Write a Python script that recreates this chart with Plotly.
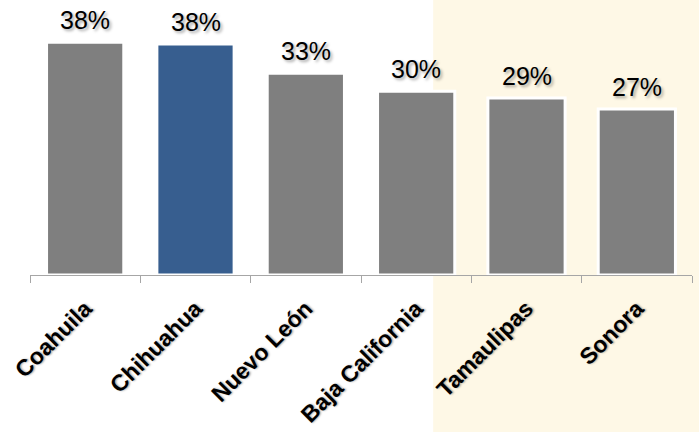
import plotly.graph_objects as go

states = ["Coahuila", "Chihuahua", "Nuevo León", "Baja California", "Tamaulipas", "Sonora"]
values = [38.0, 37.7, 32.95, 30.0, 28.9, 27.1]
labels = ["38%", "38%", "33%", "30%", "29%", "27%"]
highlight = "Chihuahua"

GRAY = "#7F7F7F"
BLUE = "#375E8F"
colors = [BLUE if s == highlight else GRAY for s in states]

fig = go.Figure()
fig.add_trace(go.Bar(
    x=states, y=values,
    marker=dict(color=colors, line=dict(color="white", width=3)),
    hoverinfo="skip",
))

for s, v, t in zip(states, values, labels):
    fig.add_annotation(
        x=s, y=v, text=t, showarrow=False, yanchor="bottom", yshift=6,
        font=dict(family="Liberation Sans, Arial", size=25, color="black",
                  shadow="2px 2px 3px rgba(0,0,0,0.35)"),
    )

fig.add_shape(type="rect", xref="paper", yref="paper",
              x0=0.609, x1=1.2, y0=-1, y1=2,
              fillcolor="#FEF8E6", line=dict(width=0), layer="below")

fig.update_layout(
    width=699, height=432,
    margin=dict(l=30, r=7, t=0, b=157),
    paper_bgcolor="white", plot_bgcolor="rgba(0,0,0,0)",
    showlegend=False,
    bargap=0.30,
)
fig.update_xaxes(
    automargin=False,
    showline=True, linecolor="#A6A6A6", linewidth=1,
    ticks="outside", tickson="boundaries", ticklen=7, tickcolor="#A6A6A6",
    tickangle=-45, ticklabelstandoff=10,
    tickfont=dict(family="Liberation Sans, Arial", size=23, color="black",
                  weight="bold", shadow="1px 1px 2px rgba(0,0,0,0.35)"),
    showgrid=False,
)
fig.update_yaxes(range=[0, 44.9], visible=False, showgrid=False, automargin=False)

fig.write_html("out.html", config={"displayModeBar": False},
               post_script="document.body.style.margin='0';document.body.style.overflow='hidden';")
